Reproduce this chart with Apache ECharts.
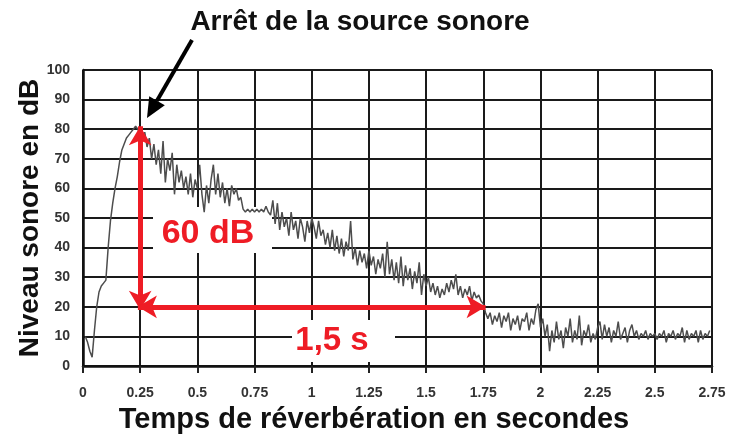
<!DOCTYPE html>
<html>
<head>
<meta charset="utf-8">
<script src="https://cdn.jsdelivr.net/npm/echarts@6/dist/echarts.min.js"></script>
<style>html,body{margin:0;padding:0;background:#fff;}#c{width:738px;height:437px;}</style>
</head>
<body>
<div id="c"></div>
<script>
// Sampled sound level (dB), one sample every 0.01 s starting at 0.01 s
const timeStart = 0.01;
const timeStep = 0.01;
const levels = [
  10,8,5,3,12,20,25,27,28,29,40,49,55,60,64,69,73,75,77,78,79,80,81,80,78,
  76,79,74,77,70,75,68,73,65,76,62,70,66,72,58,68,62,66,60,64,58,65,57,63,60,
  68,58,52,61,55,63,68,58,65,57,62,55,60,54,61,58,60,56,57,53,52,53,52,53,52,
  53,52,53,52,54,52,51,56,48,55,46,52,47,50,44,52,46,49,43,50,47,42,49,45,50,
  47,43,49,44,46,41,45,40,46,39,44,38,43,37,42,39,49,36,40,34,39,35,38,33,39,
  34,37,31,36,33,38,30,42,31,36,29,35,28,37,27,34,29,33,26,32,28,35,24,31,27,
  30,25,28,24,27,23,26,24,28,25,29,26,31,24,27,23,26,24,27,22,25,23,24,22,21,
  18,16,18,14,17,15,18,13,17,15,18,12,16,14,17,12,16,15,18,12,16,14,19,21,13,
  16,10,14,5,12,8,15,9,12,6,13,10,16,8,12,9,17,7,12,10,14,8,11,9,13,
  15,9,14,10,13,8,12,10,15,9,11,13,8,12,14,10,12,9,11,10,12,9,11,10,11,
  9,11,10,12,8,11,10,12,9,11,10,13,8,12,9,11,10,12,8,12,9,11,10,12
];
const xTicks = { min: 0, max: 2.75, interval: 0.25 };
const yTicks = { min: 0, max: 100, interval: 10 };
// Annotation values (data units)
const stopTime = 0.25, stopLevel = 81;
const decayEndTime = 1.76, decayLevel = 20, decayLowLevel = 19, decayStartTime = 0.24;

const curve = levels.map((v, i) => [+(timeStart + i * timeStep).toFixed(2), v]);

const chart = echarts.init(document.getElementById('c'), null, { renderer: 'canvas' });
const FONT = "'Liberation Sans', Arial, sans-serif";
const RED = '#ee1c25';

// black arrow geometry (pixels)
const aStart = [192, 40], aTip = [147, 118];
const dx = aTip[0] - aStart[0], dy = aTip[1] - aStart[1];
const len = Math.hypot(dx, dy), ux = dx / len, uy = dy / len;
const headL = 20, headW = 9;
const base = [aTip[0] - ux * headL, aTip[1] - uy * headL];
const px = -uy, py = ux;

chart.setOption({
  animation: false,
  backgroundColor: '#fff',
  grid: { left: 83, top: 70, right: 26, bottom: 71, containLabel: false },
  xAxis: {
    type: 'value', min: xTicks.min, max: xTicks.max, interval: xTicks.interval,
    axisLine: { show: true, onZero: false, lineStyle: { color: '#111', width: 2.5 } },
    axisTick: { show: true, length: 7, lineStyle: { color: '#222', width: 2 } },
    axisLabel: { color: '#333', fontSize: 14, fontWeight: 'bold', fontFamily: FONT, margin: 20 },
    splitLine: { show: true, lineStyle: { color: '#1a1a1a', width: 2 } }
  },
  yAxis: {
    type: 'value', min: yTicks.min, max: yTicks.max, interval: yTicks.interval,
    axisLine: { show: true, lineStyle: { color: '#111', width: 2.5 } },
    axisTick: { show: false },
    axisLabel: { color: '#333', fontSize: 14, fontWeight: 'bold', fontFamily: FONT, margin: 13 },
    splitLine: { show: true, lineStyle: { color: '#1a1a1a', width: 2 } }
  },
  graphic: [
    { type: 'rect', z: 1, shape: { x: 153, y: 207, width: 119, height: 46 }, style: { fill: '#fff' } },
    { type: 'rect', z: 1, shape: { x: 292, y: 320, width: 103, height: 42 }, style: { fill: '#fff' } },
    { type: 'text', z: 10, x: 208, y: 234, style: { text: '60 dB', fill: RED, font: "bold 34px " + FONT, align: 'center', verticalAlign: 'middle' } },
    { type: 'text', z: 10, x: 332, y: 341, style: { text: '1,5 s', fill: RED, font: "bold 33px " + FONT, align: 'center', verticalAlign: 'middle' } },
    { type: 'text', z: 10, x: 360, y: 22, style: { text: 'Arrêt de la source sonore', fill: '#111', font: "bold 28px " + FONT, align: 'center', verticalAlign: 'middle' } },
    { type: 'text', z: 10, x: 374, y: 420, style: { text: 'Temps de réverbération en secondes', fill: '#111', font: "bold 29px " + FONT, align: 'center', verticalAlign: 'middle' } },
    { type: 'text', z: 10, x: 30, y: 218, rotation: Math.PI / 2, style: { text: 'Niveau sonore en dB', fill: '#111', font: "bold 28px " + FONT, align: 'center', verticalAlign: 'middle' } },
    { type: 'line', z: 10, shape: { x1: aStart[0], y1: aStart[1], x2: base[0], y2: base[1] }, style: { stroke: '#000', lineWidth: 4 } },
    { type: 'polygon', z: 10, shape: { points: [aTip, [base[0] + px * headW, base[1] + py * headW], [base[0] - px * headW, base[1] - py * headW]] }, style: { fill: '#000' } }
  ],
  series: [
    {
      type: 'line', data: curve, showSymbol: false, symbol: 'none', z: 3,
      lineStyle: { color: '#4d4d4d', width: 1.5 }
    },
    {
      type: 'line', data: [], z: 4,
      markLine: {
        silent: true, symbol: ['arrow', 'arrow'], symbolSize: [17, 19],
        label: { show: false },
        lineStyle: { color: RED, width: 5, type: 'solid' },
        itemStyle: { color: RED },
        data: [
          [{ coord: [stopTime, stopLevel] }, { coord: [stopTime, decayLowLevel] }],
          [{ coord: [decayStartTime, decayLevel] }, { coord: [decayEndTime, decayLevel] }]
        ]
      }
    }
  ]
});
</script>
</body>
</html>
